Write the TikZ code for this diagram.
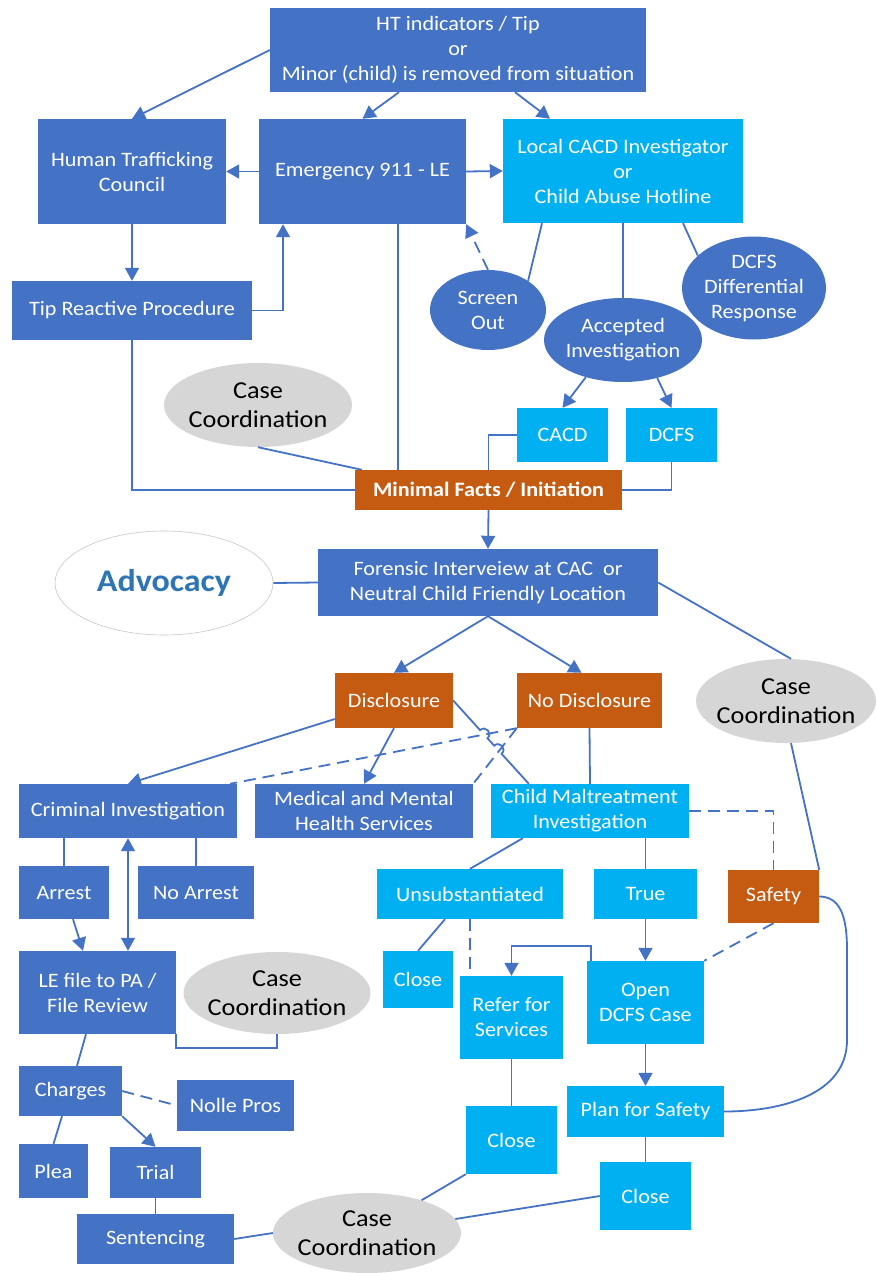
\documentclass[tikz,border=0pt]{standalone}
\usepackage{fontspec}
\setmainfont{Carlito}[FakeStretch=1.08]
\usetikzlibrary{shapes.geometric,arrows.meta,calc}
\definecolor{dblue}{HTML}{4472C4}
\definecolor{lblue}{HTML}{00B0F0}
\definecolor{orng}{HTML}{C55A11}
\definecolor{cgray}{HTML}{D6D6D6}
\definecolor{advblue}{HTML}{2E75B6}
\definecolor{advedge}{HTML}{C8C8C8}
\tikzset{
  >={Triangle[length=13pt,width=14pt]},
  base/.style={rectangle, inner sep=0pt, align=center, text=white, font=\fontsize{20.5}{25}\selectfont},
  dbox/.style={base, fill=dblue},
  lbox/.style={base, fill=lblue},
  obox/.style={base, fill=orng},
  dell/.style={base, ellipse, fill=dblue, inner sep=-6pt},
  gell/.style={ellipse, fill=cgray, inner sep=0pt},
  cctext/.style={align=center, text=black, font=\fontsize{24.3}{29}\selectfont},
  sz/.style 2 args={minimum width=#1pt, minimum height=#2pt},
  conn/.style={draw=dblue, line width=1.8pt},
  arr/.style={conn, ->},
  dsh/.style={conn, dash pattern=on 12pt off 7pt},
}
\begin{document}
\begin{tikzpicture}[x=1pt,y=-1pt]
\useasboundingbox (0,0) rectangle (876,1273);
\fill[white] (0,0) rectangle (876,1273);

% nodes
\node[dbox, sz={376}{84}] (ht) at (458,50) {HT indicators / Tip\\or\\Minor (child) is removed from situation};
\node[dbox, sz={188}{105}] (htc) at (132,171.5) {Human Trafficking\\Council};
\node[dbox, sz={207}{105}] (e911) at (362.5,171.5) {Emergency 911 - LE};
\node[lbox, sz={240}{104}] (cacdl) at (623,171) {Local CACD Investigator\\or\\Child Abuse Hotline};
\node[dbox, sz={240}{59}] (trp) at (132,310.5) {Tip Reactive Procedure};
\node[dell, sz={116}{80}] (scr) at (488,310) {Screen\\Out};
\node[dell, sz={144}{103}] (dcfsdr) at (754,288) {DCFS\\Differential\\Response};
\node[dell, sz={158}{84}] (acc) at (623,340) {Accepted\\Investigation};
\node[gell, sz={188}{84}, label={[cctext]center:Case\\Coordination}] (cc1) at (258,405) {};
\node[lbox, sz={91}{54}] (cacd) at (562.5,435) {CACD};
\node[lbox, sz={91}{54}] (dcfs) at (671.5,435) {DCFS};
\node[obox, sz={267}{40}, font=\fontsize{20.5}{25}\selectfont\bfseries] (mf) at (488.5,490) {Minimal Facts / Initiation};
\node[ellipse, draw=advedge, line width=0.6pt, fill=white, sz={218}{104}, inner sep=0pt,
  label={[font=\fontsize{31.5}{36}\selectfont\bfseries, text=advblue]center:Advocacy}] (adv) at (164,583) {};
\node[dbox, sz={340}{67}] (fi) at (488,582.5) {Forensic Interveiew at CAC\ \ or\\Neutral Child Friendly Location};
\node[obox, sz={118}{55}] (disc) at (394,700.5) {Disclosure};
\node[obox, sz={145}{55}] (nodisc) at (589.5,700.5) {No Disclosure};
\node[gell, sz={180}{84}, label={[cctext]center:Case\\Coordination}] (cc2) at (786,701) {};
\node[dbox, sz={218}{54}] (ci) at (128,811) {Criminal Investigation};
\node[dbox, sz={218}{54}] (mmh) at (364,811) {Medical and Mental\\Health Services};
\node[lbox, sz={198}{54}] (cmi) at (590,811) {Child Maltreatment\\Investigation};
\node[dbox, sz={90}{53}] (arrest) at (64,892.5) {Arrest};
\node[dbox, sz={116}{53}] (noarrest) at (196,892.5) {No Arrest};
\node[lbox, sz={186}{50}] (unsub) at (470,894) {Unsubstantiated};
\node[lbox, sz={103}{50}] (true) at (645.5,894) {True};
\node[obox, sz={91}{53}] (safety) at (773.5,896.5) {Safety};
\node[dbox, sz={157}{83}] (le) at (97.5,992.5) {LE file to PA /\\File Review};
\node[gell, sz={187}{82}, label={[cctext]center:Case\\Coordination}] (cc4) at (277,993) {};
\node[lbox, sz={70}{57}] (close1) at (418,979.5) {Close};
\node[lbox, sz={103}{83}] (refer) at (511.5,1017.5) {Refer for\\Services};
\node[lbox, sz={117}{83}] (open) at (645.5,1002.5) {Open\\DCFS Case};
\node[dbox, sz={103}{50}] (charges) at (70.5,1091) {Charges};
\node[dbox, sz={117}{51}] (nolle) at (235.5,1105.5) {Nolle Pros};
\node[lbox, sz={157}{51}] (plan) at (645.5,1111.5) {Plan for Safety};
\node[lbox, sz={91}{68}] (close2) at (511.5,1140) {Close};
\node[dbox, sz={69}{54}] (plea) at (53.5,1171) {Plea};
\node[dbox, sz={91}{51}] (trial) at (155.5,1172.5) {Trial};
\node[lbox, sz={91}{68}] (close3) at (645.5,1196) {Close};
\node[dbox, sz={157}{50}] (sent) at (155.5,1239) {Sentencing};
\node[gell, sz={188}{80}, label={[cctext]center:Case\\Coordination}] (cc3) at (367,1233) {};

% connectors - top
\draw[arr] (ht.west) -- (htc.north);
\draw[arr] ([xshift=-59pt]ht.south) -- (e911.north);
\draw[arr] ([xshift=57pt]ht.south) -- ([xshift=-73pt]cacdl.north);
\draw[arr] (e911.west) -- (htc.east);
\draw[arr] (e911.east) -- (cacdl.west);
\draw[arr] (htc.south) -- (trp.north);
\draw[arr] (trp.east) -| ([xshift=-79.5pt]e911.south);
\draw[dsh,->] (scr.north) -- (e911.south east);
\draw[conn] ([xshift=35.5pt]e911.south) -- ([xshift=35.5pt]e911.south |- mf.north);
\draw[conn] ([xshift=-81pt]cacdl.south) -- (scr.36);
\draw[conn] (cacdl.south) -- (acc.north);
\draw[conn] ([xshift=60pt]cacdl.south) -- (dcfsdr.150);
\draw[arr] (acc.225) -- (cacd.north);
\draw[arr] (acc.312) -- (dcfs.north);
\draw[conn] (cacd.west) -| (mf.north);
\draw[conn] (dcfs.south) |- (mf.east);
\draw[conn] (trp.south) |- (mf.west);
\draw[conn] (cc1.south) -- ([xshift=7pt]mf.north west);
\draw[arr] (mf.south) -- (fi.north);
\draw[conn] (adv.east) -- (fi.west);
\draw[conn] (fi.east) -- ([xshift=5pt]cc2.north);
\draw[arr] (fi.south) -- (disc.north);
\draw[arr] (fi.south) -- ([xshift=-8pt]nodisc.north);

% middle
\draw[arr] ([yshift=-18.5pt]disc.west) -- (ci.north);
\draw[arr] (disc.south) -- (mmh.north);
\coordinate (hA) at (disc.east);
\coordinate (hB) at ([xshift=38pt]cmi.north west);
\draw[conn] (hA) -- ($(hA)!40pt!(hB)$) .. controls +(5.5,-5) and +(5.5,-5) .. ($(hA)!51pt!(hB)$)
  -- ($(hA)!61pt!(hB)$) .. controls +(5.5,-5) and +(5.5,-5) .. ($(hA)!72pt!(hB)$) -- (hB);
\draw[dsh] (nodisc.south west) -- ([xshift=-7pt]ci.north east);
\draw[dsh] (nodisc.south west) -- (mmh.north east);
\draw[conn] (nodisc.south) -- (cmi.north);
\draw[conn] (arrest.north |- ci.south) -- (arrest.north);
\draw[conn] (noarrest.north |- ci.south) -- (noarrest.north);
\draw[conn,<->] (ci.south) -- (ci.south |- le.north);
\draw[arr] ([xshift=9pt]arrest.south) -- ([xshift=-14.5pt]le.north);
\draw[conn] ([xshift=32pt]cmi.south west) -- (unsub.north);
\draw[conn] (true.north |- cmi.south) -- (true.north);
\draw[dsh] (cmi.east) -| (safety.north);
\draw[conn] ([xshift=5pt]cc2.south) -- (safety.north east);
\coordinate (sc1) at (847,970);
\coordinate (sc2) at (847,1040);
\draw[conn] (safety.east) to[out=0,in=90] (sc1) -- (sc2) to[out=-90,in=0] (plan.east);
\draw[dsh] (safety.south) -- (open.north east);
\draw[arr] (true.south) -- (open.north);
\draw[arr] ([xshift=4pt]open.north west) -- ++(0,-15) -| (refer.north);
\draw[arr] (open.south) -- (plan.north);
\draw[conn] ([xshift=-25pt]unsub.south) -- (close1.north);
\draw[dsh] (unsub.south) -- (unsub.south |- refer.north);
\draw[conn] (refer.south) -- (close2.north);
\draw[conn] (plan.south) -- (close3.north);
\draw[conn] (close2.south west) -- (cc3.31);
\draw[conn] (close3.west) -- (cc3.9);

% bottom left
\draw[conn] (le.south east) -- ++(0,14) -| (cc4.south);
\draw[conn] ([xshift=-11.5pt]le.south) -- ([xshift=6.5pt]charges.north);
\draw[dsh] (charges.east) -- (nolle.west);
\draw[conn] ([xshift=-8.5pt]charges.south) -- (plea.north);
\draw[arr] (charges.south east) -- (trial.north);
\draw[conn] (trial.south) -- (sent.north);
\draw[conn] (sent.east) -- (cc3.west);
\end{tikzpicture}
\end{document}
